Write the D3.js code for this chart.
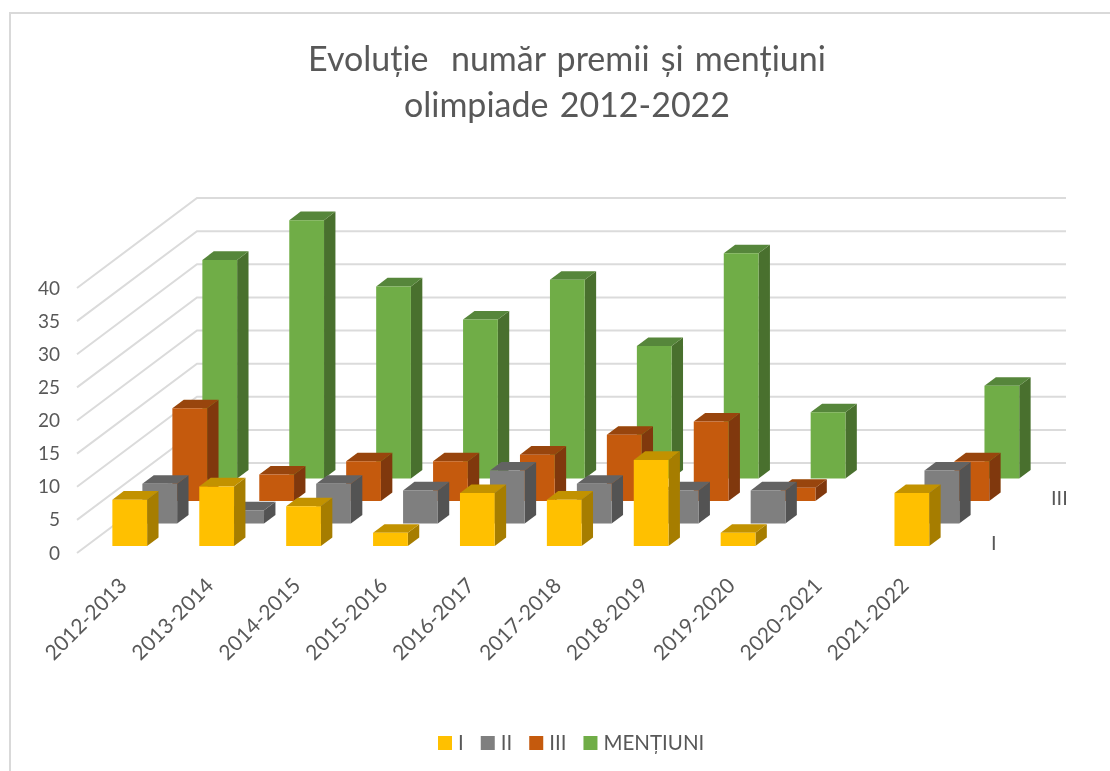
<!DOCTYPE html>
<html>
<head>
<meta charset="utf-8">
<script src="https://cdn.jsdelivr.net/npm/d3@7"></script>
<style>
  html, body { margin: 0; padding: 0; background: #fff; overflow: hidden; }
  text { font-family: Lato, "Open Sans", sans-serif; fill: #595959; }
</style>
</head>
<body>
<div id="chart"></div>
<script>
// values
const seasons = ['2012-2013', '2013-2014', '2014-2015', '2015-2016', '2016-2017',
                 '2017-2018', '2018-2019', '2019-2020', '2020-2021', '2021-2022'];
const seriesNames = ['I', 'II', 'III', 'MENȚIUNI'];
const valuesI = [7, 9, 6, 2, 8, 7, 13, 2, 0, 8];
const valuesII = [6, 2, 6, 5, 8, 6, 5, 5, 0, 8];
const valuesIII = [14, 4, 6, 6, 7, 10, 12, 2, 0, 6];
const valuesMentiuni = [33, 39, 29, 24, 30, 20, 34, 10, 0, 14];
const depthLabels = ['I', 'III'];
const titleLines = ['Evoluție  număr premii și mențiuni', 'olimpiade 2012-2022'];

const colors = [
    { front: '#FFC000', side: '#A67D00', top: '#C29200' },
    { front: '#7F7F7F', side: '#535353', top: '#636363' },
    { front: '#C55A11', side: '#80390B', top: '#984508' },
    { front: '#70AD47', side: '#49702E', top: '#57863A' }
];

let width = 1110;
let height = 771;

// the 3D box: floor front edge, and how far the back wall is shifted
const depthX = 120;
const depthY = -90;

let x = d3.scaleBand()
    .domain(seasons)
    .range([77, 946])
    .paddingInner(0.6)
    .paddingOuter(0.3);

let y = d3.scaleLinear()
    .domain([0, 40])
    .range([553, 288]);

// depth goes 0 (front) to 1 (back wall)
let z = d3.scaleBand()
    .domain(seriesNames)
    .range([0, 1])
    .paddingInner(0.62)
    .paddingOuter(0.31);

// from chart space to the picture
function px(xv, d) { return xv + d * depthX; }
function py(v, d) { return y(v) + d * depthY; }
function pt(xv, d, v) { return [px(xv, d), py(v, d)]; }

let svg = d3.select('#chart').append('svg')
    .attr('width', width)
    .attr('height', height);

svg.append('defs').append('filter')
    .attr('id', 'soft')
    .attr('filterUnits', 'userSpaceOnUse')
    .attr('x', 0).attr('y', 0)
    .attr('width', width).attr('height', height)
    .append('feGaussianBlur')
    .attr('stdDeviation', 0.55);

const root = svg.append('g').attr('filter', 'url(#soft)');

// chart border, only left and top are in the crop
root.append('path')
    .attr('d', 'M10,' + height + 'V13H' + width)
    .attr('fill', 'none')
    .attr('stroke', '#D9D9D9')
    .attr('stroke-width', 2);

// title
root.selectAll('text.title')
    .data(titleLines)
    .enter()
    .append('text')
    .attr('class', 'title')
    .attr('x', 567)
    .attr('y', (d, i) => 71 + i * 46)
    .attr('text-anchor', 'middle')
    .attr('font-size', 34)
    .attr('word-spacing', 2.5)
    .style('white-space', 'pre')
    .text(d => d);

// gridlines: side wall then back wall
const gridValues = y.ticks(8);
root.selectAll('path.grid')
    .data(gridValues)
    .enter()
    .append('path')
    .attr('class', 'grid')
    .attr('d', v => d3.line()([pt(77, 0, v), pt(77, 1, v), pt(946, 1, v)]))
    .attr('fill', 'none')
    .attr('stroke', '#DBDBDB')
    .attr('stroke-width', 2);

// value axis
const yAxis = root.append('g')
    .attr('transform', 'translate(68,0)')
    .call(d3.axisLeft(y).tickValues(gridValues).tickSize(0).tickPadding(8));
yAxis.select('.domain').remove();
yAxis.selectAll('text')
    .attr('font-size', 19)
    .style('font-family', 'Lato, "Open Sans", sans-serif');

// season labels
root.selectAll('text.season')
    .data(seasons)
    .enter()
    .append('text')
    .attr('class', 'season')
    .attr('text-anchor', 'end')
    .attr('font-size', 21)
    .attr('transform', d => 'translate(' + (x(d) + 25) + ',587) rotate(-45)')
    .text(d => d);

// depth axis labels
root.selectAll('text.depth')
    .data(depthLabels)
    .enter()
    .append('text')
    .attr('class', 'depth')
    .attr('x', d => px(946, z(d) + z.bandwidth() / 2) + 30)
    .attr('y', d => py(0, z(d) + z.bandwidth() / 2) + 8)
    .attr('font-size', 20)
    .text(d => d);

// bars, back row first so the front rows cover them
const rows = [valuesI, valuesII, valuesIII, valuesMentiuni];
for (let s = seriesNames.length - 1; s >= 0; s--) {
    let d0 = z(seriesNames[s]);
    let d1 = d0 + z.bandwidth();
    let c = colors[s];
    let bars = rows[s].map((v, i) => ({ season: seasons[i], value: v })).filter(d => d.value > 0);

    let g = root.append('g').attr('class', 'series');

    let bar = g.selectAll('g')
        .data(bars)
        .enter()
        .append('g');

    bar.append('path')
        .attr('fill', c.side)
        .attr('d', d => {
            let x1 = x(d.season) + x.bandwidth();
            return d3.line()([pt(x1, d0, 0), pt(x1, d1, 0), pt(x1, d1, d.value), pt(x1, d0, d.value)]) + 'Z';
        });
    bar.append('path')
        .attr('fill', c.top)
        .attr('d', d => {
            let x0 = x(d.season);
            let x1 = x0 + x.bandwidth();
            return d3.line()([pt(x0, d0, d.value), pt(x1, d0, d.value), pt(x1, d1, d.value), pt(x0, d1, d.value)]) + 'Z';
        });
    bar.append('path')
        .attr('fill', c.front)
        .attr('d', d => {
            let x0 = x(d.season);
            let x1 = x0 + x.bandwidth();
            return d3.line()([pt(x0, d0, 0), pt(x1, d0, 0), pt(x1, d0, d.value), pt(x0, d0, d.value)]) + 'Z';
        });
}

// legend
let legendX = 438;
seriesNames.forEach((name, i) => {
    let item = root.append('g').attr('class', 'legend');
    item.append('rect')
        .attr('x', legendX)
        .attr('y', 736)
        .attr('width', 14)
        .attr('height', 14)
        .attr('fill', colors[i].front);
    let label = item.append('text')
        .attr('x', legendX + 20)
        .attr('y', 750)
        .attr('font-size', 20.5)
        .text(name);
    legendX += 20 + label.node().getComputedTextLength() + 17;
});
</script>
</body>
</html>
